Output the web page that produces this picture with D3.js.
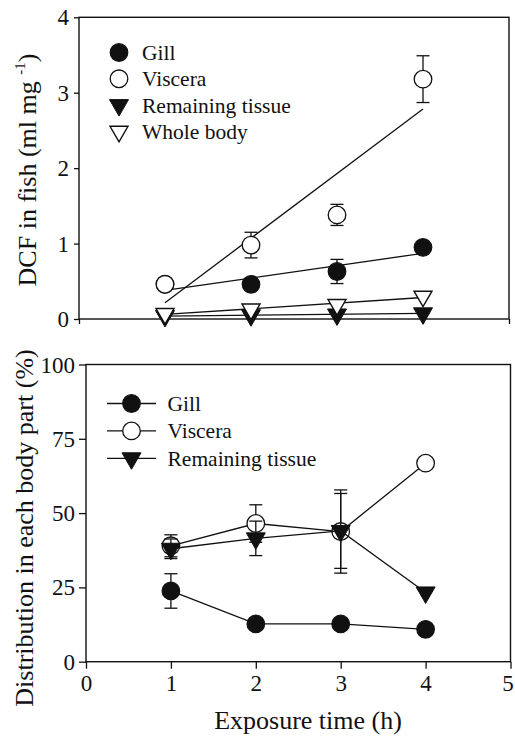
<!DOCTYPE html>
<html>
<head>
<meta charset="utf-8">
<script src="https://cdn.jsdelivr.net/npm/d3@7"></script>
<style>
  html, body { margin: 0; padding: 0; background: #fff; }
  svg { display: block; }
  text { font-family: "Liberation Serif", "Times New Roman", serif; fill: #111; }
</style>
</head>
<body>
<svg id="chart" width="515" height="736" font-family="Liberation Serif, Times New Roman, serif"></svg>
<script>
// Exposure times (h)
const hours = [1, 2, 3, 4];

// Upper panel: DCF concentration in fish (ml mg-1)
const gillConc = [0.46, 0.46, 0.63, 0.95];
const gillConcErr = [0, 0, 0.16, 0];
const visceraConc = [0.46, 0.98, 1.38, 3.18];
const visceraConcErr = [0, 0.17, 0.14, 0.31];
const remainingConc = [0.04, 0.05, 0.06, 0.075];
const wholeConc = [0.07, 0.13, 0.19, 0.30];

// Lower panel: distribution in each body part (%)
const gillPct = [23.8, 12.7, 12.7, 10.9];
const gillPctErr = [5.8, 0, 0, 0];
const visceraPct = [39.0, 46.5, 43.8, 66.8];
const visceraPctErr = [3.7, 6.3, 14.0, 0];
const remainingPct = [38.0, 41.5, 44.0, 23.3];
const remainingPctErr = [3.3, 5.8, 12.6, 0];

// Axis ticks
const xTicks = [0, 1, 2, 3, 4, 5];
const concTicks = [0, 1, 2, 3, 4];
const pctTicks = [0, 25, 50, 75, 100];

const ink = "#111";
const serif = "Liberation Serif, Times New Roman, serif";
const svg = d3.select("#chart");

// ---------- helpers ----------
function triPath(size) {
  // downward triangle with its centroid at the origin
  const w = size.w, h = size.h;
  return `M${-w / 2},${-h / 3}L${w / 2},${-h / 3}L0,${2 * h / 3}Z`;
}
const TRI = { w: 19, h: 16.5 };
const R = 8.8;

function drawSymbol(g, kind, x, y) {
  if (kind === "filledCircle") {
    g.append("circle").attr("cx", x).attr("cy", y).attr("r", R)
      .attr("fill", ink).attr("stroke", ink).attr("stroke-width", 1.2);
  } else if (kind === "openCircle") {
    g.append("circle").attr("cx", x).attr("cy", y).attr("r", R)
      .attr("fill", "#fff").attr("stroke", ink).attr("stroke-width", 1.3);
  } else if (kind === "filledTri") {
    g.append("path").attr("d", triPath(TRI)).attr("transform", `translate(${x},${y})`)
      .attr("fill", ink).attr("stroke", ink).attr("stroke-width", 1).attr("stroke-linejoin", "miter");
  } else {
    g.append("path").attr("d", triPath({ w: TRI.w - 1, h: TRI.h - 1 })).attr("transform", `translate(${x},${y})`)
      .attr("fill", "#fff").attr("stroke", ink).attr("stroke-width", 1.4).attr("stroke-linejoin", "miter");
  }
}

function drawErrors(g, xs, ys, errs, x, y) {
  xs.forEach((h, i) => {
    if (!errs[i]) return;
    const px = x(h), top = y(ys[i] + errs[i]), bot = y(ys[i] - errs[i]);
    g.append("line").attr("x1", px).attr("x2", px).attr("y1", top).attr("y2", bot)
      .attr("stroke", ink).attr("stroke-width", 1.3);
    [top, bot].forEach(v => g.append("line").attr("x1", px - 6.5).attr("x2", px + 6.5)
      .attr("y1", v).attr("y2", v).attr("stroke", ink).attr("stroke-width", 1.3));
  });
}

function fit(xs, ys) {
  const mx = d3.mean(xs), my = d3.mean(ys);
  const sxy = d3.sum(xs, (v, i) => (v - mx) * (ys[i] - my));
  const sxx = d3.sum(xs, v => (v - mx) * (v - mx));
  const b = sxy / sxx;
  return t => my + b * (t - mx);
}

function frame(x, y, left, right, top, bottom, yTicks, showXLabels, tickLen, labelGap) {
  const g = svg.append("g");
  // box
  g.append("rect").attr("x", left).attr("y", top).attr("width", right - left).attr("height", bottom - top)
    .attr("fill", "none").attr("stroke", ink).attr("stroke-width", 1.4);
  // left axis
  const ya = g.append("g").attr("transform", `translate(${left},0)`)
    .call(d3.axisLeft(y).tickValues(yTicks).tickSize(tickLen).tickPadding(labelGap).tickFormat(d3.format("d")));
  ya.attr("font-family", serif);
  ya.select(".domain").remove();
  ya.selectAll(".tick line").attr("stroke", ink).attr("stroke-width", 1.3);
  ya.selectAll(".tick text").attr("font-size", 23).attr("font-family", serif).attr("fill", ink).attr("dy", "0.33em");
  // bottom axis
  const xa = g.append("g").attr("transform", `translate(0,${bottom})`)
    .call(d3.axisBottom(x).tickValues(xTicks).tickSize(tickLen).tickPadding(labelGap + 2).tickFormat(showXLabels ? d3.format("d") : () => ""));
  xa.attr("font-family", serif);
  xa.select(".domain").remove();
  xa.selectAll(".tick line").attr("stroke", ink).attr("stroke-width", 1.3);
  xa.selectAll(".tick text").attr("font-size", 23).attr("font-family", serif).attr("fill", ink)
    // keep the last label inside the page edge
    .attr("dx", d => d === xTicks[xTicks.length - 1] ? -3 : 0);
  return g;
}

// ---------- upper panel ----------
const xTop = d3.scaleLinear().domain([0, 5]).range([79, 509]);
const yTop = d3.scaleLinear().domain([0, 4]).range([319, 17.3]);
frame(xTop, yTop, 79, 509, 17.3, 319, concTicks, false, 5, 5);

const topSeries = [
  { name: "Gill", vals: gillConc, err: gillConcErr, kind: "filledCircle" },
  { name: "Viscera", vals: visceraConc, err: visceraConcErr, kind: "openCircle" },
  { name: "Remaining tissue", vals: remainingConc, err: null, kind: "filledTri" },
  { name: "Whole body", vals: wholeConc, err: null, kind: "openTri" }
];

const gTop = svg.append("g");
// least-squares regression lines
topSeries.forEach(s => {
  const f = fit(hours, s.vals);
  gTop.append("line")
    .attr("x1", xTop(hours[0])).attr("y1", yTop(f(hours[0])))
    .attr("x2", xTop(hours[hours.length - 1])).attr("y2", yTop(f(hours[hours.length - 1])))
    .attr("stroke", ink).attr("stroke-width", 1.3);
});
topSeries.forEach(s => {
  if (s.err) drawErrors(gTop, hours, s.vals, s.err, xTop, yTop);
  hours.forEach((h, i) => drawSymbol(gTop, s.kind, xTop(h), yTop(s.vals[i])));
});

// legend (upper)
const legTop = svg.append("g");
topSeries.forEach((s, i) => {
  const cy = 52.5 + i * 26.3;
  drawSymbol(legTop, s.kind, 119, cy);
  legTop.append("text").attr("x", 142).attr("y", cy + 7.5).attr("font-size", 21.5).text(s.name);
});

// y label (upper)
const ylTop = svg.append("text")
  .attr("transform", "translate(36,170) rotate(-90)")
  .attr("text-anchor", "middle").attr("font-size", 26);
ylTop.append("tspan").text("DCF in fish (ml mg ");
ylTop.append("tspan").attr("font-size", 15).attr("dy", -11).text("-1");
ylTop.append("tspan").attr("dy", 11).text(")");

// ---------- lower panel ----------
const xBot = d3.scaleLinear().domain([0, 5]).range([86, 510.5]);
const yBot = d3.scaleLinear().domain([0, 100]).range([661.7, 364.5]);
frame(xBot, yBot, 86, 510.5, 364.5, 661.7, pctTicks, true, 7, 4);

const botSeries = [
  { name: "Gill", vals: gillPct, err: gillPctErr, kind: "filledCircle" },
  { name: "Viscera", vals: visceraPct, err: visceraPctErr, kind: "openCircle" },
  { name: "Remaining tissue", vals: remainingPct, err: remainingPctErr, kind: "filledTri" }
];

const gBot = svg.append("g");
const line = d3.line().x((d, i) => xBot(hours[i])).y(d => yBot(d));
botSeries.forEach(s => {
  gBot.append("path").attr("d", line(s.vals)).attr("fill", "none")
    .attr("stroke", ink).attr("stroke-width", 1.3);
  drawErrors(gBot, hours, s.vals, s.err, xBot, yBot);
  hours.forEach((h, i) => drawSymbol(gBot, s.kind, xBot(h), yBot(s.vals[i])));
});

// legend (lower)
const legBot = svg.append("g");
botSeries.forEach((s, i) => {
  const cy = 403.5 + i * 27.4;
  legBot.append("line").attr("x1", 107).attr("x2", 156).attr("y1", cy).attr("y2", cy)
    .attr("stroke", ink).attr("stroke-width", 1.3);
  drawSymbol(legBot, s.kind, 131.5, cy);
  legBot.append("text").attr("x", 167.5).attr("y", cy + 7.5).attr("font-size", 21.5).text(s.name);
});

// axis titles (lower)
svg.append("text")
  .attr("transform", "translate(33,528) rotate(-90)")
  .attr("text-anchor", "middle").attr("font-size", 26)
  .text("Distribution in each body part (%)");

svg.append("text")
  .attr("x", 308).attr("y", 729)
  .attr("text-anchor", "middle").attr("font-size", 26)
  .text("Exposure time (h)");
</script>
</body>
</html>
